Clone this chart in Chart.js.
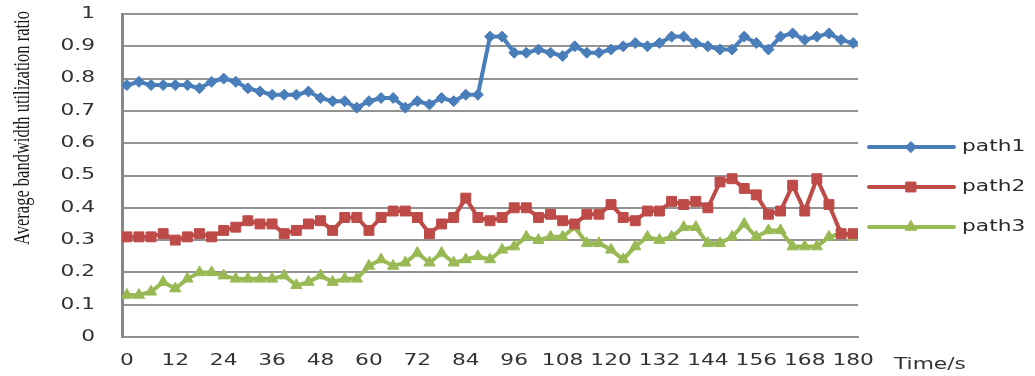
<!DOCTYPE html>
<html>
<head>
<meta charset="utf-8">
<title>Average bandwidth utilization ratio</title>
<script src="https://cdn.jsdelivr.net/npm/chart.js@4.4.1/dist/chart.umd.min.js"></script>
<style>
  html, body { margin: 0; padding: 0; background: #ffffff; }
  #wrap { width: 1035px; height: 376px; position: relative; }
</style>
</head>
<body>
<div id="wrap"><canvas id="chart"></canvas></div>
<script>
// Sampling instants (seconds)
const times = [0, 3, 6, 9, 12, 15, 18, 21, 24, 27, 30, 33, 36, 39, 42, 45, 48, 51, 54, 57,
  60, 63, 66, 69, 72, 75, 78, 81, 84, 87, 90, 93, 96, 99, 102, 105, 108, 111, 114, 117,
  120, 123, 126, 129, 132, 135, 138, 141, 144, 147, 150, 153, 156, 159, 162, 165, 168, 171, 174, 177, 180];

// Average bandwidth utilization ratio of each path
const path1 = [0.78, 0.79, 0.78, 0.78, 0.78, 0.78, 0.77, 0.79, 0.80, 0.79,
  0.77, 0.76, 0.75, 0.75, 0.75, 0.76, 0.74, 0.73, 0.73, 0.71,
  0.73, 0.74, 0.74, 0.71, 0.73, 0.72, 0.74, 0.73, 0.75, 0.75,
  0.93, 0.93, 0.88, 0.88, 0.89, 0.88, 0.87, 0.90, 0.88, 0.88,
  0.89, 0.90, 0.91, 0.90, 0.91, 0.93, 0.93, 0.91, 0.90, 0.89,
  0.89, 0.93, 0.91, 0.89, 0.93, 0.94, 0.92, 0.93, 0.94, 0.92, 0.91];

const path2 = [0.31, 0.31, 0.31, 0.32, 0.30, 0.31, 0.32, 0.31, 0.33, 0.34,
  0.36, 0.35, 0.35, 0.32, 0.33, 0.35, 0.36, 0.33, 0.37, 0.37,
  0.33, 0.37, 0.39, 0.39, 0.37, 0.32, 0.35, 0.37, 0.43, 0.37,
  0.36, 0.37, 0.40, 0.40, 0.37, 0.38, 0.36, 0.35, 0.38, 0.38,
  0.41, 0.37, 0.36, 0.39, 0.39, 0.42, 0.41, 0.42, 0.40, 0.48,
  0.49, 0.46, 0.44, 0.38, 0.39, 0.47, 0.39, 0.49, 0.41, 0.32, 0.32];

const path3 = [0.13, 0.13, 0.14, 0.17, 0.15, 0.18, 0.20, 0.20, 0.19, 0.18,
  0.18, 0.18, 0.18, 0.19, 0.16, 0.17, 0.19, 0.17, 0.18, 0.18,
  0.22, 0.24, 0.22, 0.23, 0.26, 0.23, 0.26, 0.23, 0.24, 0.25,
  0.24, 0.27, 0.28, 0.31, 0.30, 0.31, 0.31, 0.34, 0.29, 0.29,
  0.27, 0.24, 0.28, 0.31, 0.30, 0.31, 0.34, 0.34, 0.29, 0.29,
  0.31, 0.35, 0.31, 0.33, 0.33, 0.28, 0.28, 0.28, 0.31, 0.32, 0.31];

// Axis ticks
const xTickValues = [0, 12, 24, 36, 48, 60, 72, 84, 96, 108, 120, 132, 144, 156, 168, 180];
const yTickLabels = ['0', '0.1', '0.2', '0.3', '0.4', '0.5', '0.6', '0.7', '0.8', '0.9', '1'];

const seriesNames = ['path1', 'path2', 'path3'];
const xTitle = 'Time/s';
const yTitle = 'Average bandwidth utilization ratio';

const TEXT_STRETCH = 1.45;           // text glyphs are drawn wider than tall
const TICK_FONT = '15px "DejaVu Sans"';
const TEXT_COLOR = '#333333';

function pairs(values) {
  return times.map((t, i) => ({ x: t, y: values[i] }));
}

function stretchedText(ctx, text, x, y, align) {
  ctx.save();
  ctx.translate(x, y);
  ctx.scale(TEXT_STRETCH, 1);
  ctx.textAlign = align;
  ctx.textBaseline = 'middle';
  ctx.fillText(text, 0, 0);
  ctx.restore();
}

// Draws tick labels, axis titles and the legend with widened lettering
const labelPainter = {
  id: 'labelPainter',
  afterDraw(chart) {
    const ctx = chart.ctx;
    const xs = chart.scales.x;
    const ys = chart.scales.y;
    ctx.save();
    ctx.fillStyle = TEXT_COLOR;
    ctx.font = TICK_FONT;

    ys.ticks.forEach((t, i) => {
      stretchedText(ctx, yTickLabels[i], ys.right - 27, ys.getPixelForTick(i), 'right');
    });
    xs.ticks.forEach((t, i) => {
      stretchedText(ctx, String(t.value), xs.getPixelForTick(i), xs.top + 24, 'center');
    });

    // x-axis title, right of the last tick
    ctx.font = '15px "DejaVu Sans"';
    stretchedText(ctx, xTitle, xs.right + 36, xs.top + 28, 'left');

    // y-axis title, rotated, set in a serif face
    ctx.save();
    ctx.fillStyle = '#1a1a1a';
    ctx.font = '16.5px "Liberation Serif"';
    ctx.translate(23, 128);
    ctx.scale(TEXT_STRETCH, 1);
    ctx.rotate(-Math.PI / 2);
    ctx.textAlign = 'center';
    ctx.textBaseline = 'middle';
    ctx.fillText(yTitle, 0, 0);
    ctx.restore();

    // legend: line sample with marker, then series name
    const rows = [147, 187, 227];
    chart.data.datasets.forEach((ds, i) => {
      const y = rows[i];
      ctx.save();
      ctx.strokeStyle = ds.borderColor;
      ctx.lineWidth = ds.borderWidth;
      ctx.lineCap = 'round';
      ctx.beginPath();
      ctx.moveTo(869, y);
      ctx.lineTo(954, y);
      ctx.stroke();
      ctx.fillStyle = ds.pointBackgroundColor;
      ctx.strokeStyle = ds.pointBorderColor;
      ctx.lineWidth = 1;
      Chart.helpers.drawPoint(ctx, { pointStyle: ds.pointStyle, radius: ds.pointRadius, rotation: 0, borderWidth: 1 }, 911, y);
      ctx.restore();
      ctx.fillStyle = '#2b2b2b';
      ctx.font = '15px "DejaVu Sans"';
      stretchedText(ctx, ds.label, 962, y, 'left');
    });
    ctx.restore();
  }
};

const colors = ['#4a7ebb', '#be4b48', '#98b954'];
const styles = [
  { pointStyle: 'rectRot', pointRadius: 5.5 },
  { pointStyle: 'rect', pointRadius: 7 },
  { pointStyle: 'triangle', pointRadius: 6.5 }
];

const datasets = [path1, path2, path3].map((vals, i) => ({
  label: seriesNames[i],
  data: pairs(vals),
  borderColor: colors[i],
  backgroundColor: colors[i],
  pointBackgroundColor: colors[i],
  pointBorderColor: colors[i],
  borderWidth: 4,
  pointBorderWidth: 1,
  pointStyle: styles[i].pointStyle,
  pointRadius: styles[i].pointRadius,
  tension: 0,
  fill: false
}));

new Chart(document.getElementById('chart'), {
  type: 'line',
  data: { datasets },
  options: {
    responsive: true,
    maintainAspectRatio: false,
    animation: false,
    devicePixelRatio: 1,
    layout: { padding: { top: 14, right: 177, left: 0, bottom: 0 } },
    plugins: {
      legend: { display: false },
      tooltip: { enabled: false }
    },
    scales: {
      x: {
        type: 'linear',
        min: -1.2,
        max: 181.2,
        afterBuildTicks(scale) {
          scale.ticks = xTickValues.map(v => ({ value: v }));
        },
        afterFit(scale) { scale.height = 39; },
        ticks: { display: false },
        grid: { display: false, drawTicks: false },
        border: { display: true, color: '#8f8f8f', width: 2 }
      },
      y: {
        type: 'linear',
        min: 0,
        max: 1,
        ticks: { display: false, stepSize: 0.1 },
        afterFit(scale) { scale.width = 122; },
        grid: { color: '#939393', lineWidth: 2, drawTicks: false },
        border: { display: true, color: '#888888', width: 3 }
      }
    }
  },
  plugins: [labelPainter]
});
</script>
</body>
</html>
